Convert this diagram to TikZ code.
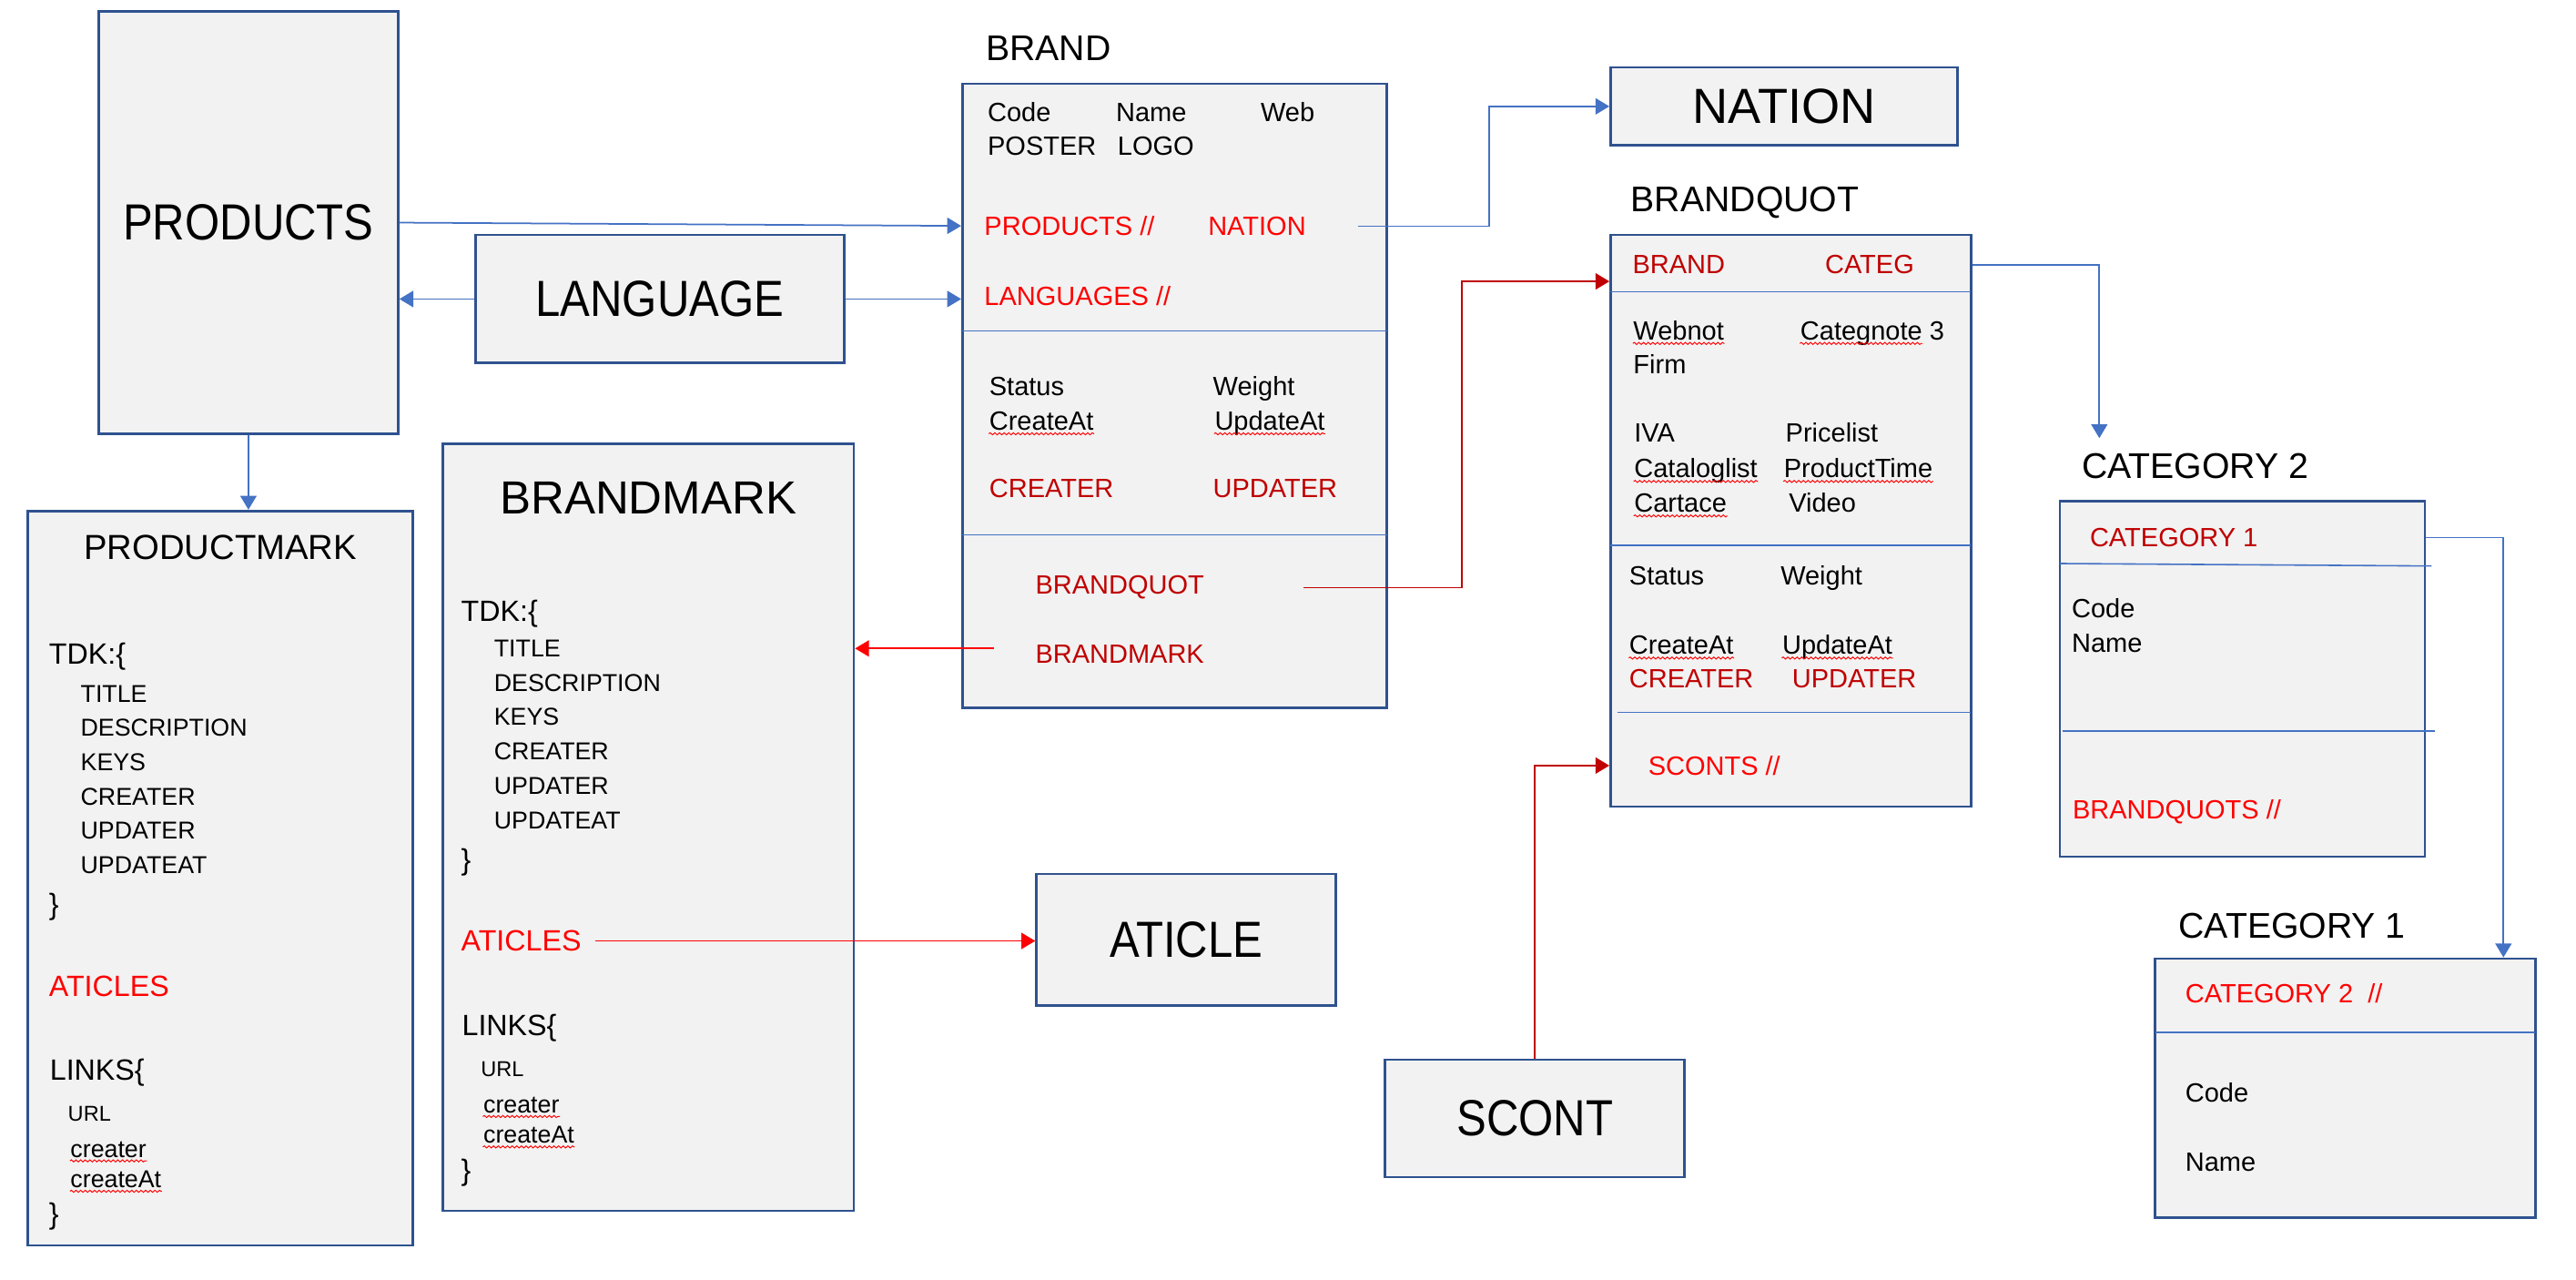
\documentclass[tikz,border=0pt]{standalone}
\usepackage{fontspec}
\setmainfont{Liberation Sans}
\newfontfamily\narrowfont[FakeStretch=0.88]{Liberation Sans}
\usetikzlibrary{arrows.meta,positioning,decorations.pathmorphing}
\definecolor{boxblue}{HTML}{2F528F}
\definecolor{boxgray}{HTML}{F2F2F2}
\definecolor{linkblue}{HTML}{4472C4}
\definecolor{darkred}{HTML}{C00000}
\tikzset{
	box/.style={draw=boxblue,fill=boxgray,line width=0.85pt,inner sep=0pt},
	sz/.style 2 args={minimum width=#1*0.019926cm,minimum height=#2*0.0199cm},
	big/.style={font=\narrowfont\fontsize{17.5}{20}\selectfont},
	headc/.style={anchor=base,inner sep=0pt},
	ttl/.style={font=\fontsize{12.3}{14}\selectfont,anchor=base west,inner sep=0pt,yshift=-4.4pt},
	fld/.style={font=\fontsize{9.1}{11}\selectfont,anchor=base west,inner sep=0pt,yshift=-3.25pt},
	sml/.style={font=\fontsize{8.4}{10}\selectfont,anchor=base west,inner sep=0pt,yshift=-3pt},
	tny/.style={font=\fontsize{7.4}{9}\selectfont,anchor=base west,inner sep=0pt,yshift=-2.65pt},
	lrg/.style={font=\fontsize{10.1}{12}\selectfont,anchor=base west,inner sep=0pt,yshift=-3.6pt},
	divider/.style={draw=linkblue,line width=0.5pt},
	link/.style={draw=linkblue,line width=0.55pt,-{Triangle[length=4.8pt,width=5.6pt]}},
	rlink/.style={link,draw=red},
	dlink/.style={link,draw=darkred},
	squig/.style={draw=red,line width=0.3pt,decorate,decoration={snake,amplitude=0.35pt,segment length=1.6pt}}
}
\begin{document}
\begin{tikzpicture}[x=0.019926cm,y=-0.0199cm]
	\useasboundingbox (0,0) rectangle (1565.79,778.93);

	% plain boxes
	\node[box,big,sz={182}{257}] (PR) at (151,135.5) {PRODUCTS};
	\node[box,big,sz={224}{78}] (LA) at (401,182) {LANGUAGE};
	\node[box,font=\fontsize{17}{20}\selectfont,sz={211}{47.5}] (NA) at (1084.5,64.75) {NATION};
	\node[box,big,sz={182}{80}] (AT) at (721,572) {ATICLE};
	\node[box,big,sz={182}{71.5}] (SC) at (933,680.75) {SCONT};

	% BRAND
	\node[ttl] (brTitle) at (599,29) {BRAND};
	\node[box,sz={258}{380}] (BR) at (714,241) {};
	\node[fld] (brCode) at (600,68) {Code};
	\node[fld] (brName) at (678,68) {Name};
	\node[fld] (brWeb) at (766,68) {Web};
	\node[fld] (brPoster) at (600,89) {POSTER};
	\node[fld] (brLogo) at (679,89) {LOGO};
	\node[fld,text=red] (brProd) at (598,137.5) {PRODUCTS //};
	\node[fld,text=red] (brNation) at (734,137.5) {NATION};
	\node[fld,text=red] (brLang) at (598,180) {LANGUAGES //};
	\node[fld] (brStatus) at (601,235) {Status};
	\node[fld] (brWeight) at (737,235) {Weight};
	\node[fld] (brCreateAt) at (601,256) {CreateAt};
	\node[fld] (brUpdateAt) at (738,256) {UpdateAt};
	\node[fld,text=darkred] (brCreater) at (601,297) {CREATER};
	\node[fld,text=darkred] (brUpdater) at (737,297) {UPDATER};
	\node[fld,text=darkred] (brQuot) at (629,356) {BRANDQUOT};
	\node[fld,text=darkred] (brMark) at (629,398) {BRANDMARK};
	\draw[divider] (585,201.5) -- (843,201.5);
	\draw[divider] (585,325.5) -- (843,325.5);

	% BRANDQUOT
	\node[ttl] (bqTitle) at (991,121) {BRANDQUOT};
	\node[box,sz={219}{348}] (BQ) at (1088.5,317) {};
	\node[fld,text=darkred] (bqBrand) at (992,161) {BRAND};
	\node[fld,text=darkred] (bqCateg) at (1109,161) {CATEG};
	\node[fld] (bqWebnot) at (992.5,201) {Webnot};
	\node[fld] (bqCategnote) at (1094,201) {Categnote 3};
	\node[fld] (bqFirm) at (992.5,222) {Firm};
	\node[fld] (bqIva) at (993,263.5) {IVA};
	\node[fld] (bqPrice) at (1085,263.5) {Pricelist};
	\node[fld] (bqCatalog) at (993,285) {Cataloglist};
	\node[fld] (bqProdTime) at (1084,285) {ProductTime};
	\node[fld] (bqCartace) at (993,306) {Cartace};
	\node[fld] (bqVideo) at (1087,306) {Video};
	\node[fld] (bqStatus) at (990,350.5) {Status};
	\node[fld] (bqWeight) at (1082,350.5) {Weight};
	\node[fld] (bqCreateAt) at (990,392.5) {CreateAt};
	\node[fld] (bqUpdateAt) at (1083,392.5) {UpdateAt};
	\node[fld,text=darkred] (bqCreater) at (990,413) {CREATER};
	\node[fld,text=darkred] (bqUpdater) at (1089,413) {UPDATER};
	\node[fld,text=red] (bqSconts) at (1001.5,466) {SCONTS //};
	\draw[divider] (979,177.5) -- (1198,177.5);
	\draw[divider] (979,332) -- (1198,332);
	\draw[divider] (983,433.5) -- (1198,433.5);

	% CATEGORY 2
	\node[ttl] (caTitle) at (1265,283.5) {CATEGORY 2};
	\node[box,sz={222}{216.5}] (C2) at (1363,413.25) {};
	\node[fld,text=darkred] (caCat1) at (1270,327) {CATEGORY 1};
	\node[fld] (caCode) at (1259,370.5) {Code};
	\node[fld] (caName) at (1259,391.5) {Name};
	\node[fld,text=red] (caQuots) at (1259.5,492.5) {BRANDQUOTS //};
	\draw[divider] (1252,343) -- (1478,344.5);
	\draw[divider] (1254,445) -- (1480,445);

	% CATEGORY 1
	\node[ttl] (cbTitle) at (1324,563) {CATEGORY 1};
	\node[box,sz={231}{157.5}] (C1) at (1425.5,662.25) {};
	\node[fld,text=red] (cbCat2) at (1328,604.5) {CATEGORY 2~~//};
	\node[fld] (cbCode) at (1328,665) {Code};
	\node[fld] (cbName) at (1328,707) {Name};
	\draw[divider] (1310,628.5) -- (1541,628.5);

	% PRODUCTMARK
	\node[box,sz={234}{447}] (PM) at (134,534.5) {};
	\node[headc,font=\fontsize{12}{14}\selectfont,yshift=-4.3pt] (pmTitle) at (134,333) {PRODUCTMARK};
	\node[lrg] (pmTdk) at (29.5,398) {TDK:\{};
	\node[lrg] (pmTdkEnd) at (29.5,550.5) {\}};
	\node[lrg,text=red] (pmAtic) at (29.5,600) {ATICLES};
	\node[lrg] (pmLinks) at (30,651) {LINKS\{};
	\node[tny] (pmUrl) at (41,678) {URL};
	\node[sml] (pmCreater) at (42.5,699) {creater};
	\node[sml] (pmCreateAt) at (42.5,717.5) {createAt};
	\node[lrg] (pmLinksEnd) at (29.5,738.5) {\}};

	% BRANDMARK
	\node[box,sz={250}{467}] (BM) at (394,503.5) {};
	\node[headc,font=\fontsize{16}{19}\selectfont,yshift=-5.7pt] (bmTitle) at (394,303) {BRANDMARK};
	\node[lrg] (bmTdk) at (280,372) {TDK:\{};
	\node[lrg] (bmTdkEnd) at (280,523) {\}};
	\node[lrg,text=red] (bmAtic) at (280,572.5) {ATICLES};
	\node[lrg] (bmLinks) at (280.5,624) {LINKS\{};
	\node[tny] (bmUrl) at (292,650.5) {URL};
	\node[sml] (bmCreater) at (293.5,672) {creater};
	\node[sml] (bmCreateAt) at (293.5,690.5) {createAt};
	\node[lrg] (bmLinksEnd) at (280,712) {\}};

	\foreach \word [count=\i] in {TITLE,DESCRIPTION,KEYS,CREATER,UPDATER,UPDATEAT} {
		\node[sml] (pmTdk\i) at (48.7,{422+20.9*(\i-1)}) {\word};
		\node[sml] (bmTdk\i) at (300,{394.5+20.9*(\i-1)}) {\word};
	}

	% spelling marks
	\foreach \w in {brCreateAt,brUpdateAt,bqWebnot,bqCatalog,bqProdTime,bqCartace,bqCreateAt,bqUpdateAt,pmCreater,pmCreateAt,bmCreater,bmCreateAt}
		\draw[squig] ([yshift=-1.3pt]\w.base west) -- ([yshift=-1.3pt]\w.base east);
	\draw[squig] ([yshift=-1.3pt]bqCategnote.base west) -- ([xshift=-7.6pt,yshift=-1.3pt]bqCategnote.base east);

	% connectors
	\draw[link] (PR.east) -- (BR.west |- brProd.west);
	\draw[link] (LA.west) -- (LA.west -| PR.east);
	\draw[link] (LA.east) -- (LA.east -| BR.west);
	\draw[link] (PR.south) -- (PR.south |- PM.north);
	\draw[link] ([xshift=0.62cm]brNation.east) -- ++(80,0) |- (NA.west);
	\draw[dlink] ([xshift=1.2cm]brQuot.east) -- ++(96,0) |- ([yshift=-0.2cm]BQ.west |- bqBrand.west);
	\coordinate (bmFrom) at ([xshift=-0.5cm,yshift=0.07cm]brMark.west);
	\draw[rlink] (bmFrom) -- (bmFrom -| BM.east);
	\draw[rlink] ([xshift=0.16cm]bmAtic.east) -- (bmAtic.east -| AT.west);
	\draw[dlink] (SC.north) |- (BQ.west |- bqSconts.west);
	\draw[link] (BQ.east |- bqCateg.west) -| ([xshift=0.22cm,yshift=0.18cm]caTitle.north west);
	\draw[link] (C2.east |- caCat1.west) -| ([xshift=-0.4cm]C1.north east);
\end{tikzpicture}
\end{document}
